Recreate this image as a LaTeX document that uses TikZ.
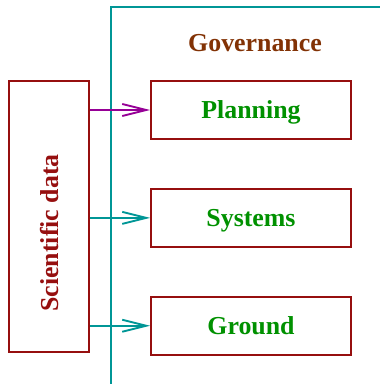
\documentclass[tikz,border=0pt]{standalone}
\usepackage{fontspec}
\setmainfont{Liberation Serif}[BoldFont={Liberation Serif Bold}]
\usepackage{tikz}
\usetikzlibrary{arrows.meta,positioning}
\definecolor{boxred}{RGB}{150,15,15}
\definecolor{govbrown}{RGB}{130,50,5}
\definecolor{leafgreen}{RGB}{0,145,0}
\definecolor{frameteal}{RGB}{0,150,150}
\definecolor{linkpurple}{RGB}{150,0,150}

\begin{document}
\begin{tikzpicture}[
  x=0.75pt,y=-0.75pt,
  node distance=36pt and 45pt,
  label font/.style={font=\fontsize{19.4}{23}\selectfont\bfseries},
  area/.style={rectangle,draw=boxred,line width=1.4pt,minimum width=150pt,minimum height=43.5pt,
    text height=15.5pt,text depth=2pt,label font,text=leafgreen},
  source/.style={rectangle,draw=boxred,line width=1.4pt,minimum width=60pt,minimum height=203pt,
    label font,text=boxred},
  frame/.style={draw=frameteal,line width=1.4pt},
  arrow/.style={-{Straight Barb[length=18pt,width=9pt]},line width=1.4pt}
]
\useasboundingbox (0,0) rectangle (380,384);
\node[area] (plan) at (251,110) {Planning};
\node[area, below=of plan] (sys) {Systems};
\node[area, below=of sys] (ground) {Ground};
\node[source, anchor=north east] (data) at ([xshift=-45pt]plan.north west)
  {\rotatebox{90}{Scientific data\hspace*{25pt}}};
\node[label font,text=govbrown] (gov) at (255,43) {Governance};
% open frame of the governance area
\coordinate (ftop) at (111,7);
\draw[frame] (111,384) -- (ftop) -- (380,7);
% links into the areas
\draw[arrow,linkpurple] (data.east |- plan.west) -- (plan.west);
\draw[arrow,frameteal] (data.east |- sys.west) -- (sys.west);
\draw[arrow,frameteal] (data.east |- ground.west) -- (ground.west);
\end{tikzpicture}
\end{document}
